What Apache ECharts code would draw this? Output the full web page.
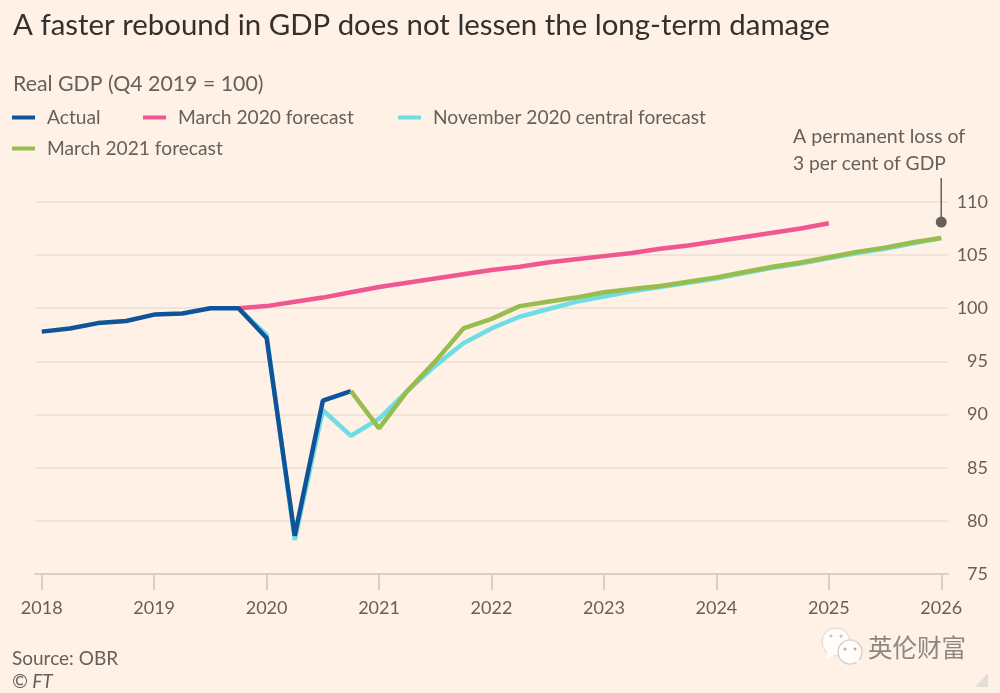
<!DOCTYPE html>
<html><head><meta charset="utf-8">
<style>html,body{margin:0;padding:0;background:#FFF1E5}#c{width:1000px;height:693px}</style>
<script src="https://cdn.jsdelivr.net/npm/echarts@6/dist/echarts.min.js"></script>
</head><body><div id="c"></div>
<script>
const yearTicks = [2018,2019,2020,2021,2022,2023,2024,2025,2026];
const valueTicks = [75,80,85,90,95,100,105,110];
const actualX = [2018,2018.25,2018.5,2018.75,2019,2019.25,2019.5,2019.75,2020,2020.25,2020.5,2020.75];
const actualY = [97.8,98.1,98.6,98.8,99.4,99.5,100,100,97.2,78.6,91.3,92.2];
const march2020X = [2019.75,2020,2020.25,2020.5,2020.75,2021,2021.25,2021.5,2021.75,2022,2022.25,2022.5,2022.75,2023,2023.25,2023.5,2023.75,2024,2024.25,2024.5,2024.75,2025];
const march2020Y = [100,100.2,100.6,101,101.5,102,102.4,102.8,103.2,103.6,103.9,104.3,104.6,104.9,105.2,105.6,105.9,106.3,106.7,107.1,107.5,108];
const nov2020X = [2019.75,2020,2020.25,2020.5,2020.75,2021,2021.25,2021.5,2021.75,2022,2022.25,2022.5,2022.75,2023,2023.25,2023.5,2023.75,2024,2024.25,2024.5,2024.75,2025,2025.25,2025.5,2025.75,2026];
const nov2020Y = [100,97.5,78.2,90.4,88,89.6,92.2,94.6,96.7,98.1,99.2,99.9,100.6,101.1,101.6,102,102.4,102.8,103.3,103.8,104.2,104.7,105.2,105.6,106.1,106.6];
const march2021X = [2020.75,2021,2021.25,2021.5,2021.75,2022,2022.25,2022.5,2022.75,2023,2023.25,2023.5,2023.75,2024,2024.25,2024.5,2024.75,2025,2025.25,2025.5,2025.75,2026];
const march2021Y = [92.2,88.7,92.2,95,98.1,99,100.2,100.6,101,101.5,101.8,102.1,102.5,102.9,103.4,103.9,104.3,104.8,105.3,105.7,106.2,106.6];
const annotationX = [2026,2026];
const annotationY = [108.1,112.25];
const names = ['Actual','March 2020 forecast','November 2020 central forecast','March 2021 forecast'];
const colors = ['#0F5499','#F0568F','#6FDDE4','#98BC4E'];

const FONT = 'Lato';
const TXT = '#66605C';
const zip = (a,b)=>a.map((v,i)=>[v,b[i]]);
const lineSeries = (name,xs,ys,color,z)=>({
  name,type:'line',data:zip(xs,ys),symbol:'none',z,silent:true,
  lineStyle:{color,width:4.5,join:'bevel',cap:'butt'},itemStyle:{color}
});
const legendAt = (name,left,top)=>({
  show:true,data:[name],left,top,icon:'rect',itemWidth:23,itemHeight:4,itemGap:12,padding:0,
  selectedMode:false,textStyle:{color:TXT,fontFamily:FONT,fontSize:19.2,padding:[0,0,0,7]}
});
const text = (txt,left,top,size,extra)=>({
  text:txt,left,top,padding:0,
  textStyle:Object.assign({color:TXT,fontFamily:FONT,fontSize:size,fontWeight:'normal'},extra||{})
});
const chart = echarts.init(document.getElementById('c'),null,{renderer:'canvas'});
chart.setOption({
  animation:false,
  backgroundColor:'#FFF1E5',
  title:[
    text('A faster rebound in GDP does not lessen the long-term damage',13,11,29.4,{color:'#33302E'}),
    text('Real GDP (Q4 2019 = 100)',13,74,21.3),
    text('A permanent loss of',793,127,19.6),
    text('3 per cent of GDP',793,154,19.2),
    text('Source: OBR',12,649,19),
    text('© FT',12,672,19,{fontStyle:'italic'})
  ],
  legend:[legendAt(names[0],12,108),legendAt(names[1],143,108),legendAt(names[2],398,108),legendAt(names[3],12,139)],
  grid:{left:35,right:52,top:178,bottom:119,containLabel:false},
  xAxis:{
    type:'value',min:2017.94,max:2026.06,
    axisLine:{onZero:false,lineStyle:{color:'#D5D0CB',width:2}},
    axisTick:{length:16,lineStyle:{color:'#D5D0CB',width:2},customValues:yearTicks},
    axisLabel:{customValues:yearTicks,color:TXT,fontFamily:FONT,fontSize:18,margin:25,formatter:v=>String(v)},
    splitLine:{show:false}
  },
  yAxis:{
    type:'value',position:'right',min:75,max:112.25,
    axisLine:{show:false},
    axisTick:{show:false,customValues:valueTicks},
    axisLabel:{customValues:valueTicks,color:TXT,fontFamily:FONT,fontSize:18,align:'right',margin:40,padding:[2,0,0,0],formatter:v=>String(v)},
    splitLine:{show:true,lineStyle:{color:'#EBDFD3',width:1.5}}
  },
  series:[
    lineSeries(names[2],nov2020X,nov2020Y,colors[2],3),
    lineSeries(names[1],march2020X,march2020Y,colors[1],4),
    lineSeries(names[0],actualX,actualY,colors[0],5),
    lineSeries(names[3],march2021X,march2021Y,colors[3],6),
    {
      type:'line',silent:true,clip:false,z:7,
      data:[{value:[annotationX[0],annotationY[0]],symbol:'circle',symbolSize:11},{value:[annotationX[1],annotationY[1]],symbol:'none'}],
      lineStyle:{color:TXT,width:1.5},itemStyle:{color:TXT},showSymbol:true
    }
  ],
  graphic:[
    {type:'circle',shape:{cx:836,cy:642,r:14},style:{fill:'#FFFCFA',stroke:'#DDD6CF',lineWidth:1},z:10},
    {type:'polygon',shape:{points:[[827,652],[826,659],[835,655]]},style:{fill:'#FFFCFA'},z:10},
    {type:'circle',shape:{cx:850,cy:652,r:12},style:{fill:'#FFFCFA',stroke:'#CFCAC5',lineWidth:1.2},z:11},
    {type:'polygon',shape:{points:[[855,661],[859,664],[859,657]]},style:{fill:'#FFFCFA'},z:11},
    {type:'circle',shape:{cx:845,cy:649,r:1.5},style:{fill:'#B5B0AB'},z:12},
    {type:'circle',shape:{cx:855,cy:649,r:1.5},style:{fill:'#B5B0AB'},z:12},
    {type:'circle',shape:{cx:831,cy:636,r:1.5},style:{fill:'#C8C3BE'},z:12},
    {type:'circle',shape:{cx:841,cy:636,r:1.5},style:{fill:'#C8C3BE'},z:12},
    {type:'text',left:868,top:635,style:{text:'英伦财富',fill:'#8C8782',font:'24.5px "Noto Sans CJK SC"'},z:12},
    {type:'polygon',shape:{points:[[988,673],[988,687],[975,687]]},style:{fill:'#E3DED8'},z:10}
  ]
});
</script></body></html>
